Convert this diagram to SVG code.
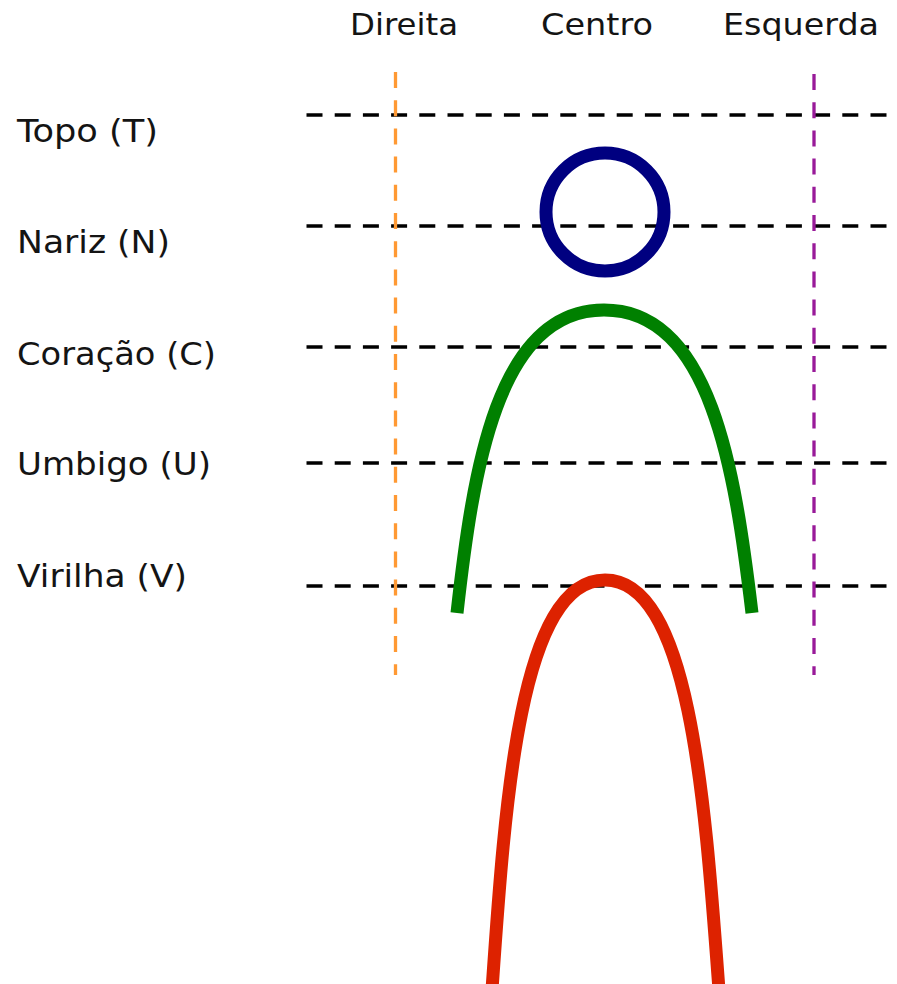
<svg xmlns="http://www.w3.org/2000/svg" width="897" height="984" viewBox="0 0 897 984">
<style>
text{font-family:"DejaVu Sans","Liberation Sans",sans-serif;font-size:32px;fill:#141414}
.t{font-size:31px}
.h{stroke:#000;stroke-width:3.5;stroke-dasharray:16 12.2;fill:none}
.v{stroke-width:3.3;stroke-dasharray:16 12.2;fill:none}
.body{fill:none;stroke-width:13}
</style>
<rect width="897" height="984" fill="#fff"/>
<g id="labels-top">
<text class="t" x="350" y="35" textLength="108" lengthAdjust="spacingAndGlyphs">Direita</text>
<text class="t" x="541" y="35" textLength="112" lengthAdjust="spacingAndGlyphs">Centro</text>
<text class="t" x="723" y="35" textLength="156" lengthAdjust="spacingAndGlyphs">Esquerda</text>
</g>
<g id="labels-left">
<text x="17" y="142" textLength="141" lengthAdjust="spacingAndGlyphs">Topo (T)</text>
<text x="17" y="253" textLength="153" lengthAdjust="spacingAndGlyphs">Nariz (N)</text>
<text x="17" y="365" textLength="199" lengthAdjust="spacingAndGlyphs">Coração (C)</text>
<text x="17" y="475" textLength="194" lengthAdjust="spacingAndGlyphs">Umbigo (U)</text>
<text x="17" y="587" textLength="170" lengthAdjust="spacingAndGlyphs">Virilha (V)</text>
</g>
<g id="guides">
<line class="h" x1="306.5" y1="115" x2="888" y2="115"/>
<line class="h" x1="306.5" y1="226" x2="888" y2="226"/>
<line class="h" x1="306.5" y1="347" x2="888" y2="347"/>
<line class="h" x1="306.5" y1="463" x2="888" y2="463"/>
<line class="h" x1="306.5" y1="586" x2="888" y2="586"/>
<line class="v" stroke="#ff9933" x1="395.5" y1="72" x2="395.5" y2="675"/>
<line class="v" stroke="#991a99" x1="814" y1="74" x2="814" y2="675"/>
</g>
<g id="head"><circle class="body" stroke="#000080" cx="605" cy="212" r="59"/></g>
<g id="torso"><path class="body" stroke="#008000" d="M457 613 C473 470 497 310 604 310 C711 310 735 470 752 613"/></g>
<g id="legs"><path class="body" stroke="#dd2200" d="M492 990 C505 800 520 580 605 580 C690 580 705 800 719 990"/></g>
</svg>
